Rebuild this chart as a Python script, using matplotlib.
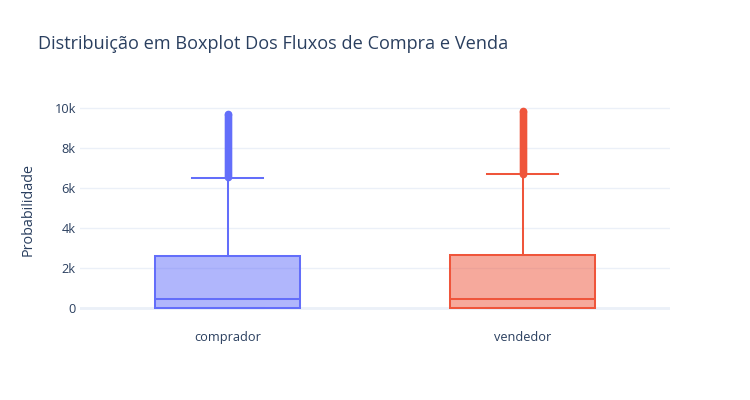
import matplotlib
matplotlib.use("Agg")
import matplotlib.pyplot as plt
from matplotlib.ticker import FixedLocator

plt.rcParams['font.family'] = ['Open Sans', 'DejaVu Sans']

categories = ["comprador", "vendedor"]
colors = ["#636efa", "#EF553B"]

q1 = [20, 20]
median = [430, 470]
q3 = [2600, 2650]
whisker_low = [0, 0]
whisker_high = [6500, 6700]

outliers_comprador = [6550, 6650, 6750, 6850, 6950, 7050, 7150, 7250, 7350, 7450,
                      7550, 7650, 7750, 7850, 7950, 8050, 8150, 8250, 8350, 8450,
                      8550, 8650, 8750, 8850, 8950, 9050, 9150, 9250, 9350, 9450,
                      9550, 9650, 9700]
outliers_vendedor = [6720, 6800, 6900, 7000, 7100, 7200, 7300, 7400, 7500, 7600,
                     7700, 7800, 7900, 8000, 8100, 8200, 8300, 8400, 8500, 8600,
                     8700, 8800, 8900, 9000, 9100, 9200, 9300, 9400, 9500, 9600,
                     9700, 9800, 9850]
outliers = [outliers_comprador, outliers_vendedor]

ytick_values = [0, 2000, 4000, 6000, 8000, 10000]
ytick_labels = ["0", "2k", "4k", "6k", "8k", "10k"]

title = "Distribuição em Boxplot Dos Fluxos de Compra e Venda"
ylabel = "Probabilidade"

text_color = "#2a3f5f"
grid_color = "#ebf0f8"

fig = plt.figure(figsize=(7.5, 4), dpi=100)
ax = fig.add_axes([80/750, 80/400, 590/750, 220/400])

lw = 1.45
for i, cat in enumerate(categories):
    stats = [dict(med=median[i], q1=q1[i], q3=q3[i], whislo=whisker_low[i],
                  whishi=whisker_high[i], fliers=outliers[i], label=cat)]
    c = colors[i]
    ax.bxp(stats, positions=[i], widths=0.49, capwidths=0.24, patch_artist=True,
           boxprops=dict(facecolor=matplotlib.colors.to_rgba(c, 0.5), edgecolor=c, linewidth=lw),
           medianprops=dict(color=c, linewidth=lw),
           whiskerprops=dict(color=c, linewidth=lw),
           capprops=dict(color=c, linewidth=lw),
           flierprops=dict(marker='o', markersize=4.5, markerfacecolor=c,
                           markeredgecolor=c, linestyle='none'),
           zorder=3)

ax.set_xlim(-0.5, 1.5)
ax.set_ylim(-600, 10400)
ax.set_xticks(range(len(categories)))
ax.set_xticklabels(categories, fontsize=9.2, color=text_color)
ax.yaxis.set_major_locator(FixedLocator(ytick_values))
ax.set_yticklabels(ytick_labels, fontsize=9.2, color=text_color)
ax.tick_params(length=0, pad=3)
ax.tick_params(axis='x', pad=8)
ax.grid(axis='y', color=grid_color, linewidth=1, zorder=0)
ax.axhline(0, color=grid_color, linewidth=2, zorder=1)
ax.set_axisbelow(True)
for s in ax.spines.values():
    s.set_visible(False)

fig.text(38/750, 1 - 44/400, title, fontsize=13.1, color=text_color, va='center', ha='left')
fig.text(28/750, 1 - 209/400, ylabel, fontsize=10.4, color=text_color, va='center',
         ha='center', rotation=90)

fig.savefig("out.png", dpi=100, facecolor="white")
